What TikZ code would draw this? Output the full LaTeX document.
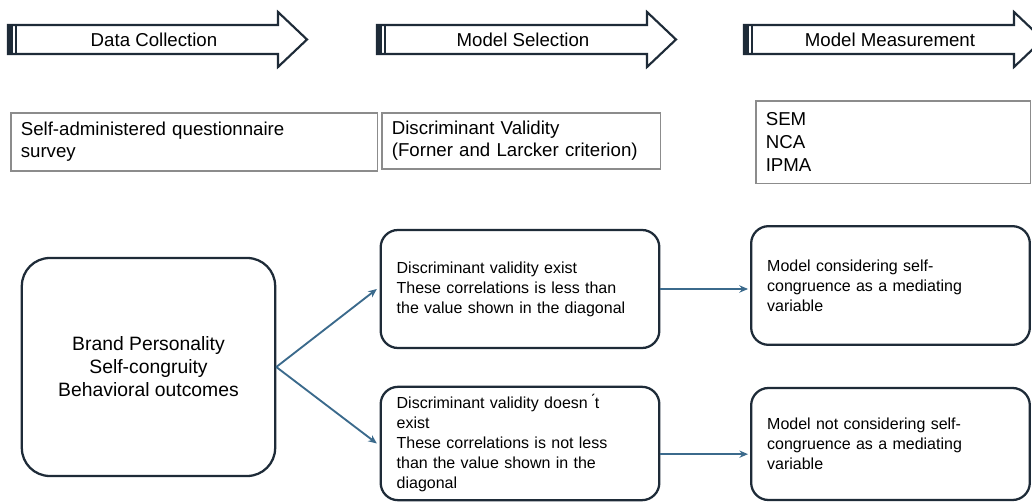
\documentclass[tikz,border=0pt]{standalone}
\usepackage{fontspec}
\setmainfont{Liberation Sans}
\usetikzlibrary{arrows.meta, positioning}
\definecolor{framenavy}{HTML}{1E2B38}
\definecolor{linkblue}{HTML}{3B6A8C}
\definecolor{boxgray}{HTML}{8C8C8C}

\begin{document}
\begin{tikzpicture}[x=0.75pt,y=-0.75pt,
	phasetext/.style={font=\fontsize{14}{16}\selectfont},
	infobox/.style={draw=boxgray,line width=1.2pt,align=left,inner xsep=7.5pt,
		font=\fontsize{14}{16.5}\selectfont},
	roundbox/.style={draw=framenavy,line width=1.7pt,rounded corners=13pt,align=left,
		minimum width=209pt,inner xsep=12pt,text width=185pt,
		font=\fontsize{12}{15}\selectfont},
	link/.style={draw=linkblue,line width=1.4pt,-{Stealth[length=6.5pt,width=5.5pt]}}]
	\useasboundingbox (0,0) rectangle (1032,502);
	\clip (0,0) rectangle (1032,502);
	% phase arrows
	\foreach \px/\ptext [count=\i] in {8/Data Collection, 377/Model Selection, 744/Model Measurement}{
		\draw[framenavy,line width=1.6pt,fill=white]
			(\px,25) -- (\px+270,25) -- (\px+270,12) -- (\px+299,39.5) -- (\px+270,67)
			-- (\px+270,54) -- (\px,54) -- cycle;
		\fill[framenavy] (\px,25) rectangle (\px+4.5,54);
		\draw[framenavy,line width=1.1pt] (\px+8,25) -- (\px+8,54);
		\node[phasetext] (phase\i) at (\px+146,40) {\ptext};
	}
	% method boxes
	\node[infobox,text width=275pt-15pt,minimum height=43.5pt,anchor=north west]
		(survey) at (10,112) {Self-administered questionnaire\\survey};
	\node[infobox,text width=209pt-15pt,minimum height=42pt,anchor=north west]
		(validity) at (381,112) {Discriminant Validity\\(Forner and Larcker criterion)};
	\node[infobox,text width=206pt-15pt,minimum height=62pt,anchor=north west,
		font=\fontsize{14}{17.25}\selectfont]
		(methods) at (755,100) {SEM\\NCA\\IPMA};
	% constructs
	\node[draw=framenavy,line width=1.7pt,rounded corners=21pt,minimum width=190pt,
		minimum height=163.5pt,align=center,font=\fontsize{14.5}{17.25}\selectfont]
		(constructs) at (148.5,367) {Brand Personality\\Self-congruity\\Behavioral outcomes};
	% outcomes
	\node[roundbox,minimum height=88.5pt] (dvyes) at (520,289)
		{Discriminant validity exist\\These correlations is less than\\the value shown in the diagonal};
	\node[roundbox,minimum height=89pt] (medyes) at (890.5,285.5)
		{Model considering self-\\congruence as a mediating\\variable};
	\node[roundbox,minimum height=85pt] (dvno) at (520,443.5)
		{Discriminant validity doesn\,\'{}t\\exist\\These correlations is not less\\than the value shown in the\\diagonal};
	\node[roundbox,minimum height=84pt] (medno) at (890.5,444)
		{Model not considering self-\\congruence as a mediating\\variable};
	% links
	\draw[link] (constructs.east) -- ([xshift=-2pt]dvyes.west);
	\draw[link] (constructs.east) -- ([xshift=-2pt]dvno.west);
	\draw[link] (dvyes.east) -- ([xshift=-1.5pt]dvyes.east -| medyes.west);
	\draw[link] ([yshift=-8pt]dvno.east) -- ([xshift=-1.5pt,yshift=-8pt]dvno.east -| medno.west);
\end{tikzpicture}
\end{document}
